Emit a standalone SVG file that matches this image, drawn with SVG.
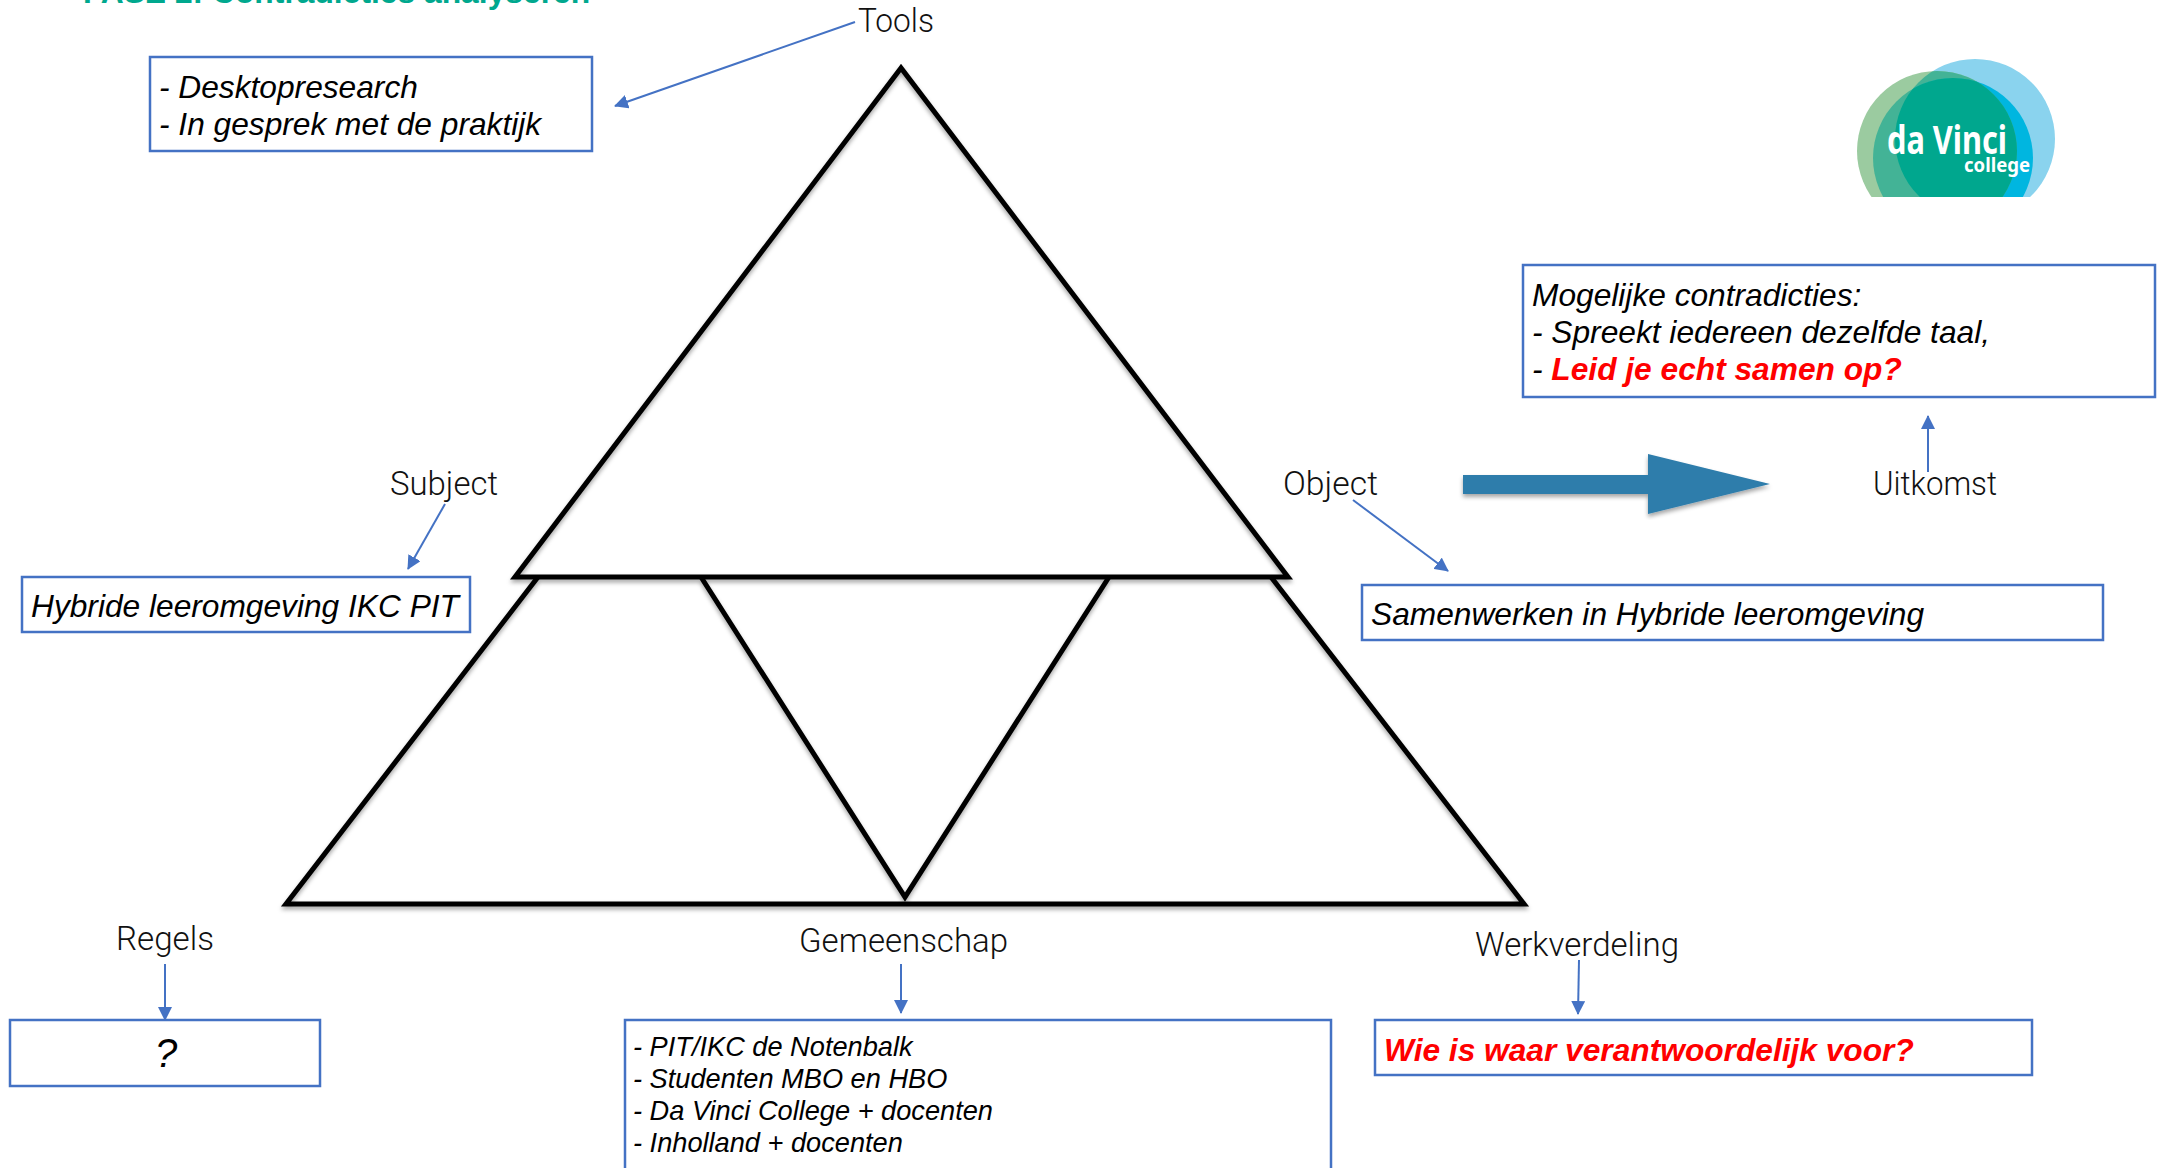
<svg xmlns="http://www.w3.org/2000/svg" width="2163" height="1168" viewBox="0 0 2163 1168">
<style>
.box{fill:#fff;stroke:#4472c4;stroke-width:2.5}
.t{font-family:"Liberation Sans",Arial,sans-serif;font-style:italic;fill:#000;font-size:31.7px}
.l{font-family:Roboto,"Liberation Sans",Arial,sans-serif;font-size:32.5px;fill:#111;font-weight:300}
.s{font-size:27.2px}
.tri{fill:none;stroke:#000;stroke-width:5;stroke-linejoin:miter}
.c{stroke:#4472c4;stroke-width:2;fill:none;marker-end:url(#a)}
.red{fill:#f00;font-weight:700}
</style>
<defs>
<marker id="a" markerUnits="userSpaceOnUse" markerWidth="14" markerHeight="14" refX="13" refY="7" orient="auto"><path d="M0 0L14 7L0 14Z" fill="#4472c4"/></marker>
<filter id="sh" x="-5%" y="-5%" width="110%" height="115%"><feDropShadow dx="0" dy="3" stdDeviation="2" flood-color="#000" flood-opacity=".35"/></filter>
<clipPath id="cut"><rect x="1840" y="50" width="230" height="147"/></clipPath>
<clipPath id="blue"><circle cx="1975" cy="139" r="80"/></clipPath>
<clipPath id="green"><circle cx="1937" cy="151" r="80"/></clipPath>
</defs>
<rect width="2163" height="1168" fill="#fff"/>
<text id="title" x="83" y="3" font-family="Liberation Sans,Arial,sans-serif" font-weight="700" font-size="31.8" fill="#00a88e">FASE 2: Contradicties analyseren</text>
<g id="triangles" filter="url(#sh)">
<path class="tri" d="M901 68L515 577H1288Z"/>
<path class="tri" d="M538 577L286 904H1524L1271 577"/>
<path class="tri" d="M701 577L905 897L1109 577"/>
</g>
<g id="connectors">
<path class="c" d="M855 22L615 106"/>
<path class="c" d="M445 504L408 569"/>
<path class="c" d="M1353 500L1448 571"/>
<path class="c" d="M1928 472V416" stroke-width="2.5"/>
<path class="c" d="M165 964V1020"/>
<path class="c" d="M901 964V1013"/>
<path class="c" d="M1579 960L1578 1014"/>
</g>
<g id="big-arrow" filter="url(#sh)"><path d="M1463 475H1648V454L1770 484L1648 514V494H1463Z" fill="#2e7dab"/></g>
<g id="logo">
<g clip-path="url(#cut)">
<circle cx="1975" cy="139" r="80" fill="#8ad3ee"/>
<circle cx="1937" cy="151" r="80" fill="#9bcba0"/>
<g clip-path="url(#blue)"><circle cx="1937" cy="151" r="80" fill="#43b396"/><circle cx="1953" cy="158" r="80" fill="#00b6e0"/></g>
<g clip-path="url(#green)"><circle cx="1953" cy="158" r="80" fill="#43b396"/><g clip-path="url(#blue)"><circle cx="1953" cy="158" r="80" fill="#00a78e"/></g></g>
</g>
<text x="1887" y="154" font-family="Noto Sans,sans-serif" font-weight="700" font-size="40" fill="#fff" textLength="120" lengthAdjust="spacingAndGlyphs">da Vinci</text>
<text x="1964" y="172" font-family="Noto Sans,sans-serif" font-weight="700" font-size="19" fill="#fff" textLength="66" lengthAdjust="spacingAndGlyphs">college</text>
</g>
<g id="tools"><text class="l" x="858" y="32" textLength="76" lengthAdjust="spacingAndGlyphs">Tools</text>
<rect class="box" x="150" y="57" width="442" height="94"/>
<text class="t" x="159" y="98">- Desktopresearch</text><text class="t" x="159" y="135">- In gesprek met de praktijk</text></g>
<g id="subject"><text class="l" x="390" y="495" textLength="108" lengthAdjust="spacingAndGlyphs">Subject</text>
<rect class="box" x="22" y="577" width="448" height="55"/>
<text class="t" x="31" y="617">Hybride leeromgeving IKC PIT</text></g>
<g id="object"><text class="l" x="1283" y="495" textLength="95" lengthAdjust="spacingAndGlyphs">Object</text>
<rect class="box" x="1362" y="585" width="741" height="55"/>
<text class="t" x="1371" y="625">Samenwerken in Hybride leeromgeving</text></g>
<g id="uitkomst"><text class="l" x="1873" y="495" textLength="124" lengthAdjust="spacingAndGlyphs">Uitkomst</text>
<rect class="box" x="1523" y="265" width="632" height="132"/>
<text class="t" x="1532" y="306">Mogelijke contradicties:</text>
<text class="t" x="1532" y="343">- Spreekt iedereen dezelfde taal,</text>
<text class="t" x="1532" y="380">- <tspan class="red">Leid je echt samen op?</tspan></text></g>
<g id="regels"><text class="l" x="116" y="950" textLength="98" lengthAdjust="spacingAndGlyphs">Regels</text>
<rect class="box" x="10" y="1020" width="310" height="66"/>
<text class="t" style="font-size:40px" x="166" y="1067" text-anchor="middle">?</text></g>
<g id="gemeenschap"><text class="l" x="799" y="952" textLength="209" lengthAdjust="spacingAndGlyphs">Gemeenschap</text>
<rect class="box" x="625" y="1020" width="706" height="160"/>
<text class="t s" x="633" y="1056">- PIT/IKC de Notenbalk</text>
<text class="t s" x="633" y="1088">- Studenten MBO en HBO</text>
<text class="t s" x="633" y="1120">- Da Vinci College + docenten</text>
<text class="t s" x="633" y="1152">- Inholland + docenten</text></g>
<g id="werkverdeling"><text class="l" x="1475" y="956" textLength="204" lengthAdjust="spacingAndGlyphs">Werkverdeling</text>
<rect class="box" x="1375" y="1020" width="657" height="55"/>
<text class="t red" x="1384" y="1061">Wie is waar verantwoordelijk voor?</text></g>
</svg>
